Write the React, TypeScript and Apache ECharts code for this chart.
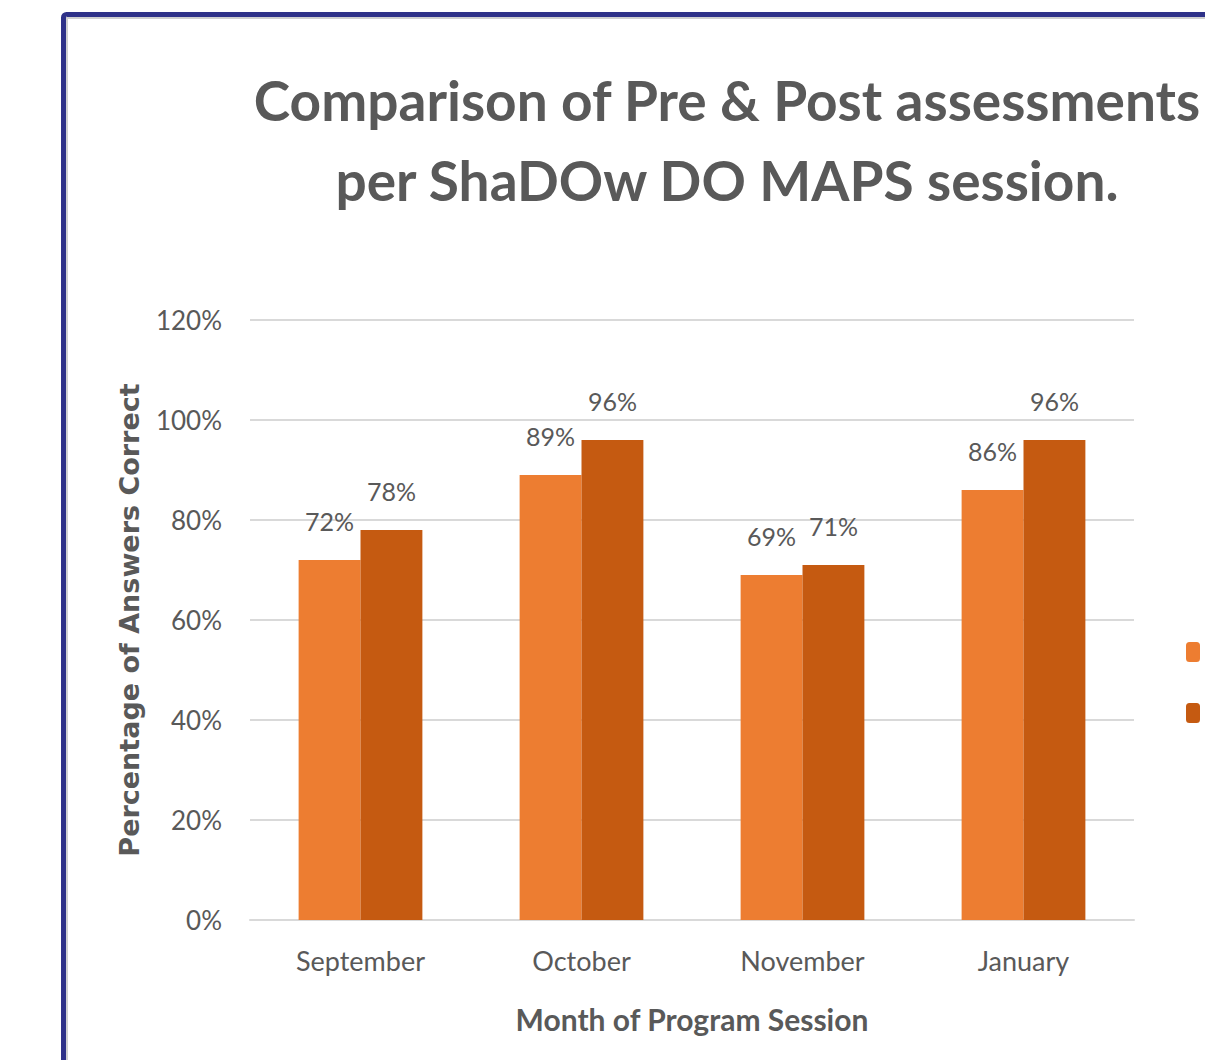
import React, { useEffect, useRef } from "react";
import * as echarts from "echarts";

const categories = ["September", "October", "November", "January"];
const preValues = [72, 89, 69, 86];
const postValues = [78, 96, 71, 96];
const seriesNames = ["Pre-Assessment", "Post-Assessment"];
const titleLines = ["Comparison of Pre & Post assessments", "per ShaDOw DO MAPS session."];

const FONT = "Lato, 'Open Sans', sans-serif";
const GRAY = "#595959";

export default function App() {
  const ref = useRef<HTMLDivElement>(null);
  useEffect(() => {
    if (!ref.current) return;
    const chart = echarts.init(ref.current, undefined, { renderer: "svg" });
    const labelStyle = {
      show: true,
      position: "top",
      distance: 27,
      formatter: "{c}%",
      fontFamily: FONT,
      fontSize: 25,
      color: GRAY,
    };
    chart.setOption({
      animation: false,
      backgroundColor: "#ffffff",
      title: {
        text: titleLines.join("\n"),
        left: 722,
        top: 55,
        textAlign: "center",
        textStyle: {
          fontFamily: FONT,
          fontWeight: "bold",
          fontSize: 55,
          lineHeight: 80,
          color: GRAY,
        },
      },
      legend: {
        orient: "vertical",
        left: 1181,
        top: 637,
        itemWidth: 14,
        itemHeight: 20,
        itemGap: 41,
        data: seriesNames,
        textStyle: { fontFamily: FONT, fontSize: 20, color: GRAY },
      },
      grid: { left: 250, right: 71, top: 320, bottom: 140, containLabel: false },
      xAxis: {
        type: "category",
        data: categories,
        name: "Month of Program Session",
        nameLocation: "middle",
        nameGap: 84,
        nameTextStyle: { fontFamily: FONT, fontWeight: "bold", fontSize: 30, color: GRAY },
        axisLine: { lineStyle: { color: "#d9d9d9", width: 2 } },
        axisTick: { show: false },
        axisLabel: { fontFamily: FONT, fontSize: 27, color: GRAY, margin: 27 },
      },
      yAxis: {
        type: "value",
        min: 0,
        max: 120,
        interval: 20,
        name: "Percentage of Answers Correct",
        nameLocation: "middle",
        nameGap: 107,
        nameTextStyle: {
          fontFamily: "'DejaVu Sans', sans-serif",
          fontWeight: "bold",
          fontSize: 27,
          color: GRAY,
        },
        axisLine: { show: false },
        axisTick: { show: false },
        axisLabel: { formatter: "{value}%", fontFamily: FONT, fontSize: 26, color: GRAY, margin: 28 },
        splitLine: { lineStyle: { color: "#d9d9d9", width: 2 } },
      },
      series: [
        {
          name: seriesNames[0],
          type: "bar",
          data: preValues,
          barGap: "0%",
          barCategoryGap: "44%",
          itemStyle: { color: "#ed7d31" },
          label: labelStyle,
        },
        {
          name: seriesNames[1],
          type: "bar",
          data: postValues,
          barGap: "0%",
          barCategoryGap: "44%",
          itemStyle: { color: "#c55a11" },
          label: labelStyle,
        },
      ],
      graphic: [
        {
          type: "rect",
          shape: { x: 67, y: 18, width: 1200, height: 1100 },
          style: { fill: "none", stroke: "#d0d0d0", lineWidth: 2 },
          silent: true,
        },
        {
          type: "rect",
          shape: { x: 63.5, y: 14.5, width: 1200, height: 1100, r: 3 },
          style: { fill: "none", stroke: "#2e3188", lineWidth: 5 },
          silent: true,
        },
      ],
    });
    return () => chart.dispose();
  }, []);
  return (
    <div
      ref={ref}
      style={{ position: "fixed", left: 0, top: 0, width: 1205, height: 1060 }}
    />
  );
}
